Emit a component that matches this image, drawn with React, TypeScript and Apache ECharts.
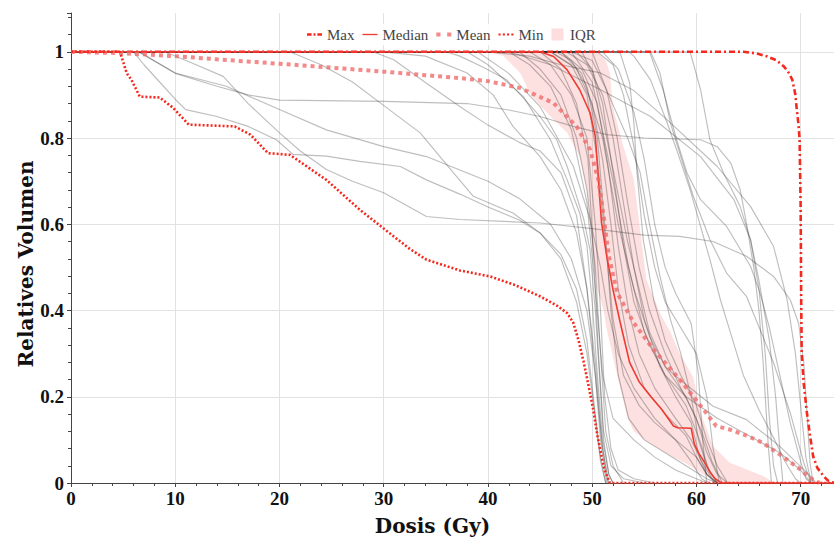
import React, { useEffect, useRef } from "react";
import * as echarts from "echarts";

type Pt = [number, number];

// ---- axis extents / titles ----
const doseMax = 73.2;
const volMax = 1.09;
const xTitle = "Dosis (Gy)";
const yTitle = "Relatives Volumen";

// ---- summary curves (dose Gy, relative volume) ----
const maxCurve: Pt[] = [[0,1],[64.5,1],[65.8,0.996],[66.8,0.989],[67.7,0.98],[68.4,0.966],[68.9,0.95],[69.2,0.935],[69.5,0.9],[69.6,0.873],[69.8,0.83],[69.9,0.796],[70,0.641],[70.05,0.433],[70.1,0.3],[70.3,0.23],[70.6,0.163],[70.9,0.11],[71.2,0.062],[71.6,0.035],[72.2,0.016],[72.6,0.006],[73.2,0]];
const medianCurve: Pt[] = [[0,1],[45,1],[46.3,0.989],[47.6,0.958],[48.8,0.912],[49.8,0.858],[50.3,0.804],[50.6,0.703],[50.9,0.603],[51.4,0.526],[52,0.448],[52.7,0.371],[53.6,0.279],[54.5,0.235],[55.6,0.201],[56.7,0.17],[57.8,0.132],[58.2,0.128],[59.5,0.127],[59.8,0.09],[60.2,0.07],[60.8,0.047],[61.3,0.025],[61.8,0.01],[62.4,0],[73.2,0]];
const meanCurve: Pt[] = [[0,1],[4.7,0.997],[10,0.99],[14.9,0.981],[21.3,0.97],[30,0.954],[37.3,0.939],[40,0.932],[43.1,0.916],[46.3,0.881],[48.5,0.827],[49.8,0.773],[50.6,0.703],[51.1,0.618],[51.6,0.526],[52.4,0.441],[54,0.371],[55.9,0.309],[58.4,0.24],[60.7,0.17],[61.9,0.132],[63.2,0.124],[64.8,0.11],[66.4,0.093],[68.7,0.054],[70,0.031],[70.9,0.012],[71.8,0]];
const minCurve: Pt[] = [[0,1],[4.7,1],[5.35,0.95],[5.8,0.935],[6.6,0.896],[8.5,0.894],[9.8,0.87],[11.3,0.831],[15.7,0.827],[17.2,0.808],[18.9,0.765],[21,0.761],[24.5,0.703],[27.7,0.634],[30,0.59],[32.5,0.543],[34.1,0.518],[37.3,0.493],[40.2,0.479],[42.5,0.46],[45,0.433],[46.7,0.41],[47.6,0.394],[48.2,0.371],[48.7,0.33],[49.2,0.279],[49.7,0.22],[50.1,0.17],[50.5,0.11],[50.9,0.062],[51.2,0.03],[51.7,0],[73.2,0]];
const iqrLow: Pt[] = [[0,1],[40,1],[41.5,0.99],[43.1,0.951],[44.1,0.9],[46,0.85],[47.6,0.812],[48.8,0.757],[49.5,0.68],[49.8,0.603],[50.1,0.52],[50.5,0.45],[51.1,0.4],[51.4,0.356],[52.4,0.25],[53,0.19],[53.4,0.15],[54,0.12],[55.3,0.095],[56.5,0.078],[57.8,0.06],[59,0.045],[60,0.03],[61,0.015],[62,0.005],[63,0]];
const iqrHigh: Pt[] = [[0,1],[50.5,1],[51.3,0.98],[51.7,0.951],[52,0.87],[53,0.78],[54,0.703],[54.6,0.587],[55.2,0.472],[56.5,0.394],[57.5,0.35],[58.4,0.3],[59.7,0.245],[60.4,0.163],[61.6,0.085],[63.2,0.047],[66.4,0.016],[67.5,0]];

// ---- individual patient curves ----
const g1: Pt[] = [[0,1],[6,1],[7,0.97],[8.5,0.93],[10,0.89],[11,0.866],[14,0.85],[17,0.827],[19.7,0.796],[21.3,0.762],[24.5,0.758],[27.7,0.746],[31.6,0.734],[34.1,0.703],[37.3,0.67],[40,0.64],[43,0.61],[45,0.58],[47,0.52],[48.5,0.42],[49.5,0.3],[50.3,0.15],[50.8,0.05],[51.3,0]];
const g2: Pt[] = [[0,1],[6.5,1],[10,0.951],[14.9,0.92],[20,0.866],[24.5,0.819],[30,0.78],[34.1,0.757],[37.3,0.726],[40,0.7],[43,0.66],[46,0.6],[48,0.52],[49.5,0.4],[50.3,0.25],[50.8,0.1],[51.4,0]];
const g3: Pt[] = [[0,1],[9,1],[12,0.97],[14.6,0.943],[17,0.88],[20,0.812],[22,0.77],[24.5,0.727],[27,0.7],[30,0.673],[34.1,0.618],[37.3,0.611],[45,0.603],[50,0.59],[55,0.575],[58.4,0.572],[61.6,0.56],[64.8,0.526],[67.4,0.479],[69,0.425],[69.8,0.371],[70.3,0.279],[70.6,0.163],[70.9,0.047],[71.2,0]];
const g4: Pt[] = [[0,1],[21,1],[24,0.97],[27,0.93],[29.7,0.881],[33.5,0.812],[36.7,0.719],[38.6,0.665],[42.4,0.626],[45,0.58],[47,0.53],[48.5,0.45],[49.5,0.33],[50.2,0.18],[50.8,0.06],[51.3,0]];
const g5: Pt[] = [[0,1],[29,1],[31,0.981],[34.1,0.927],[37.3,0.873],[40,0.83],[43,0.79],[45,0.77],[47,0.72],[48.5,0.62],[49.5,0.45],[50.3,0.25],[51,0.08],[51.6,0]];
const g6: Pt[] = [[0,1],[6.5,1],[10,0.95],[14,0.92],[17,0.9],[20,0.888],[30,0.885],[38,0.88],[42,0.865],[45,0.85],[48.2,0.827],[51.4,0.808],[55,0.8],[60.4,0.796],[62,0.78],[63.3,0.742],[64.2,0.68],[64.8,0.603],[65.5,0.5],[66,0.4],[66.4,0.28],[66.9,0.085],[67.2,0]];
const g7: Pt[] = [[0,1],[30,1],[34,0.99],[38,0.951],[40.5,0.9],[42.4,0.827],[45,0.757],[47,0.68],[48.5,0.58],[49.5,0.45],[50.3,0.28],[50.9,0.1],[51.5,0]];
const b1: Pt[] = [[0,1],[44,1],[46,0.97],[48,0.9],[49.5,0.8],[50.3,0.6],[50.8,0.4],[51.2,0.2],[51.8,0.08],[52.5,0.03],[54,0.01],[56,0]];
const b2: Pt[] = [[0,1],[45,1],[47,0.96],[48.5,0.88],[49.6,0.75],[50.2,0.5],[50.6,0.3],[51.1,0.12],[51.8,0.04],[53,0.01],[55,0]];
const b3: Pt[] = [[0,1],[42,1],[44,0.97],[46,0.92],[48,0.82],[49.5,0.65],[50.3,0.45],[51,0.25],[52,0.15],[54,0.1],[56,0.06],[58,0.03],[60,0.01],[61,0]];
const b4: Pt[] = [[0,1],[46,1],[48,0.97],[49.5,0.9],[50.5,0.75],[51.3,0.55],[52,0.38],[53,0.25],[54.5,0.18],[56,0.14],[58,0.1],[59.5,0.05],[60.5,0.01],[61.2,0]];
const b5: Pt[] = [[0,1],[46,1],[48.5,0.96],[50,0.88],[51,0.75],[51.8,0.6],[52.5,0.45],[53.5,0.32],[55,0.22],[57,0.16],[59,0.11],[60,0.06],[61,0.02],[62,0]];
const b6: Pt[] = [[0,1],[47,1],[49,0.96],[50.5,0.88],[51.5,0.74],[52.5,0.55],[53.5,0.4],[54.5,0.3],[56,0.22],[58,0.15],[59.5,0.1],[60.5,0.05],[61.5,0.01],[62,0]];
const b7: Pt[] = [[0,1],[47.5,1],[49.5,0.97],[51,0.9],[52,0.8],[53,0.65],[54,0.5],[55,0.38],[56.5,0.27],[58,0.2],[59.5,0.14],[60.3,0.06],[61,0.02],[61.8,0]];
const b8: Pt[] = [[0,1],[48,1],[50,0.98],[51.4,0.91],[52.4,0.8],[53.4,0.65],[54.5,0.5],[55.5,0.4],[57,0.3],[58.5,0.22],[60,0.15],[61,0.07],[62,0.02],[63,0]];
const b9: Pt[] = [[0,1],[49,1],[50.1,0.95],[51.4,0.8],[52.4,0.68],[53.4,0.56],[54.5,0.45],[55.5,0.35],[57,0.27],[59,0.2],[60.5,0.12],[61.5,0.05],[62.5,0]];
const b10: Pt[] = [[0,1],[50,1],[51.4,0.91],[53.4,0.8],[54.6,0.72],[55.5,0.6],[56.5,0.48],[57.5,0.38],[58.5,0.3],[59.5,0.2],[60.2,0.1],[61,0.04],[62,0]];
const b11: Pt[] = [[0,1],[36,1],[37.3,0.99],[39.5,0.965],[41.8,0.935],[45,0.85],[46.6,0.796],[47.6,0.734],[48.2,0.688],[49.2,0.611],[49.8,0.54],[50.3,0.4],[50.7,0.25],[51.1,0.1],[51.6,0.02],[52,0]];
const b12: Pt[] = [[0,1],[38,1],[40,0.97],[43.4,0.896],[46,0.796],[47.6,0.703],[48.8,0.626],[49.5,0.55],[50,0.42],[50.5,0.25],[51,0.1],[51.6,0.02],[52,0]];
const b13: Pt[] = [[0,1],[39,1],[42,0.95],[45,0.873],[48.2,0.734],[49.8,0.611],[50.8,0.5],[51.5,0.4],[52.5,0.3],[54,0.22],[56,0.15],[58,0.1],[60,0.06],[61,0.02],[62,0]];
const b14: Pt[] = [[0,1],[46.5,1],[48,0.98],[49.5,0.92],[50.5,0.8],[51.2,0.6],[51.8,0.4],[52.5,0.25],[53.5,0.15],[55,0.1],[57,0.07],[59,0.04],[61,0.01],[62,0]];
const b15: Pt[] = [[0,1],[48.5,1],[50,0.96],[51,0.88],[52,0.72],[53,0.55],[54,0.42],[55.5,0.32],[57,0.25],[59,0.18],[60.3,0.1],[61.2,0.03],[62,0]];
const b16: Pt[] = [[0,1],[43,1],[45,0.96],[47,0.9],[48.5,0.8],[49.5,0.68],[50.3,0.5],[50.8,0.3],[51.3,0.12],[52,0.04],[53,0]];
const c1: Pt[] = [[0,1],[52,1],[52.7,0.997],[53.6,0.927],[54,0.835],[54.3,0.719],[54.9,0.564],[55.9,0.425],[57,0.33],[58.5,0.25],[60,0.18],[61,0.1],[62,0.04],[63,0]];
const c2: Pt[] = [[0,1],[53.5,1],[54,0.99],[55.6,0.935],[57.2,0.835],[58.1,0.773],[59.4,0.68],[60.4,0.595],[61.3,0.518],[62.3,0.425],[63.5,0.33],[64.5,0.25],[66,0.17],[67.5,0.1],[68.5,0.05],[69.5,0.01],[70,0]];
const c3: Pt[] = [[0,1],[55.5,1],[56.8,0.912],[58.1,0.796],[59.1,0.719],[60.4,0.657],[62.9,0.595],[65.2,0.502],[66.1,0.441],[67,0.36],[68,0.25],[69,0.14],[70,0.05],[70.5,0.01],[71,0]];
const c4: Pt[] = [[0,1],[55.6,1],[56.5,0.951],[57.5,0.835],[58.5,0.757],[59.7,0.665],[61.3,0.564],[62.9,0.487],[64.8,0.433],[67.4,0.279],[69,0.163],[70.3,0.047],[71,0]];
const c5: Pt[] = [[0,1],[59.4,1],[60.4,0.912],[61.3,0.796],[62.6,0.719],[64.2,0.641],[65.2,0.564],[66,0.47],[67,0.33],[67.6,0.2],[68,0.08],[68.3,0]];
const c6: Pt[] = [[0,1],[40,1],[44,0.99],[47,0.97],[50.8,0.951],[54,0.91],[57.2,0.842],[62,0.734],[65.2,0.641],[67.4,0.549],[68.7,0.425],[69.5,0.3],[70,0.18],[70.5,0.06],[71,0]];
const c7: Pt[] = [[0,1],[42,1],[46,0.97],[50.8,0.912],[55.6,0.85],[60.4,0.757],[63.6,0.657],[65.2,0.564],[66,0.45],[66.6,0.3],[67,0.15],[67.4,0.04],[67.8,0]];
const c8: Pt[] = [[0,1],[47,1],[49,0.95],[51,0.8],[52.5,0.6],[54,0.45],[55.5,0.34],[57,0.27],[58.4,0.24],[61.6,0.178],[64.8,0.147],[68,0.085],[70.6,0.024],[71.5,0]];
const c9: Pt[] = [[0,1],[48,1],[50,0.93],[52,0.7],[53.5,0.5],[55,0.35],[57,0.25],[59,0.2],[62,0.15],[65,0.11],[68,0.07],[70,0.03],[71,0]];
const c10: Pt[] = [[0,1],[50.5,1],[52,0.97],[53,0.9],[54,0.78],[55,0.62],[56,0.5],[57,0.42],[58.5,0.36],[60,0.3],[61,0.2],[61.6,0.08],[62.2,0]];
const c11: Pt[] = [[0,1],[51,1],[52.5,0.96],[54,0.86],[55,0.75],[56,0.6],[57,0.5],[58,0.44],[59.5,0.37],[60.2,0.25],[60.6,0.1],[61,0]];

const patientCurves: Pt[][] = [g1,g2,g3,g4,g5,g6,g7,b1,b2,b3,b4,b5,b6,b7,b8,b9,b10,b11,b12,b13,b14,b15,b16,c1,c2,c3,c4,c5,c6,c7,c8,c9,c10,c11];

const RED = "#f5281e";
const MEAN_PINK = "rgba(240,105,105,0.78)";
const IQR_PINK = "rgba(250,160,160,0.32)";
const SERIF = "'Liberation Serif', 'Times New Roman', serif";

// legend glyphs (dash patterns drawn as filled paths)
const ICON_MAX = "path://M0,0h6v3h-6z M8.5,0h2.5v3h-2.5z M13.5,0h6v3h-6z";
const ICON_MEDIAN = "path://M0,0h19v1.7h-19z";
const ICON_MEAN = "path://M0,0h5v5h-5z M13,0h5v5h-5z";
const ICON_MIN = "path://M0,0h2.5v2.5h-2.5z M5,0h2.5v2.5h-2.5z M10,0h2.5v2.5h-2.5z M15,0h2.5v2.5h-2.5z";
const ICON_IQR = "path://M0,0h10v10h-10z";

function buildOption(): any {
  const grayColor = "rgba(40,40,40,0.3)";
  const patientSeries = patientCurves.map((c, i) => ({
    name: "Patient " + (i + 1),
    type: "line",
    data: c,
    symbol: "none",
    silent: true,
    z: 3,
    lineStyle: { color: grayColor, width: 1.15 },
  }));
  const iqrPolygonData = [...iqrLow, ...[...iqrHigh].reverse()];
  return {
    animation: false,
    backgroundColor: "#ffffff",
    grid: { left: 71, right: 0, top: 13, bottom: 62 },
    legend: {
      data: [
        { name: "Max", icon: ICON_MAX },
        { name: "Median", icon: ICON_MEDIAN },
        { name: "Mean", icon: ICON_MEAN },
        { name: "Min", icon: ICON_MIN },
        { name: "IQR", icon: ICON_IQR },
      ],
      top: 24,
      left: 299,
      itemWidth: 15,
      itemHeight: 12,
      itemGap: 8,
      backgroundColor: "rgba(255,255,255,0.92)",
      padding: [3, 8, 3, 8],
      textStyle: { fontFamily: SERIF, fontSize: 15, color: "#444" },
    },
    xAxis: {
      type: "value",
      min: 0,
      max: doseMax,
      interval: 10,
      name: xTitle,
      nameLocation: "middle",
      nameGap: 33,
      nameMoveOverlap: false,
      nameTextStyle: {
        fontFamily: "'DejaVu Serif', serif",
        fontWeight: "bold",
        fontSize: 20,
        color: "#111",
        padding: [0, 40, 0, 0],
      },
      axisLine: { show: true, lineStyle: { color: "#444", width: 1 } },
      axisTick: { show: true, length: 4, lineStyle: { color: "#444" } },
      minorTick: { show: true, splitNumber: 5, length: 3, lineStyle: { color: "#444" } },
      axisLabel: {
        fontFamily: SERIF,
        fontWeight: "bold",
        fontSize: 19,
        color: "#111",
        margin: 6,
        showMaxLabel: false,
      },
      splitLine: { show: true, showMaxLine: false, lineStyle: { color: "#e2e2e2", width: 1 } },
    },
    yAxis: {
      type: "value",
      min: 0,
      max: volMax,
      interval: 0.2,
      name: yTitle,
      nameLocation: "middle",
      nameGap: 35,
      nameMoveOverlap: false,
      nameTextStyle: {
        fontFamily: "'DejaVu Serif', serif",
        fontWeight: "bold",
        fontSize: 20,
        color: "#111",
        padding: [0, 32, 0, 0],
      },
      axisLine: { show: true, lineStyle: { color: "#444", width: 1 } },
      axisTick: { show: true, length: 4, lineStyle: { color: "#444" } },
      minorTick: { show: true, splitNumber: 5, length: 3, lineStyle: { color: "#444" } },
      axisLabel: {
        fontFamily: SERIF,
        fontWeight: "bold",
        fontSize: 19,
        color: "#111",
        margin: 7,
        showMaxLabel: false,
      },
      splitLine: { show: true, showMaxLine: false, lineStyle: { color: "#e2e2e2", width: 1 } },
    },
    series: [
      {
        name: "IQR",
        type: "custom",
        data: iqrPolygonData,
        encode: { x: 0, y: 1 },
        z: 2,
        silent: true,
        itemStyle: { color: "rgba(250,170,170,0.4)" },
        renderItem: (params: any, api: any) => {
          if (params.dataIndex !== 0) return null;
          const pts = iqrPolygonData.map((p) => api.coord(p));
          return {
            type: "polygon",
            shape: { points: pts },
            style: { fill: IQR_PINK, stroke: "none" },
          };
        },
      },
      ...patientSeries,
      {
        name: "Max",
        type: "line",
        data: maxCurve,
        symbol: "none",
        z: 5,
        itemStyle: { color: RED },
        lineStyle: { color: RED, width: 2.6, type: [6, 3, 2, 3] },
      },
      {
        name: "Median",
        type: "line",
        data: medianCurve,
        symbol: "none",
        z: 5,
        itemStyle: { color: "#ee3b33" },
        lineStyle: { color: "#ee3b33", width: 1.6 },
      },
      {
        name: "Mean",
        type: "line",
        data: meanCurve,
        symbol: "none",
        z: 5,
        itemStyle: { color: MEAN_PINK },
        lineStyle: { color: MEAN_PINK, width: 4, type: [4, 4] },
      },
      {
        name: "Min",
        type: "line",
        data: minCurve,
        symbol: "none",
        z: 5,
        itemStyle: { color: RED },
        lineStyle: { color: RED, width: 2.6, type: [2, 2] },
      },
    ],
  };
}

export default function App() {
  const ref = useRef<HTMLDivElement>(null);
  useEffect(() => {
    if (!ref.current) return;
    const chart = echarts.init(ref.current, null, { renderer: "svg" });
    chart.setOption(buildOption());
    return () => chart.dispose();
  }, []);
  return (
    <div
      ref={ref}
      style={{ position: "fixed", left: 0, top: 0, width: 834, height: 545, background: "#fff" }}
    />
  );
}
